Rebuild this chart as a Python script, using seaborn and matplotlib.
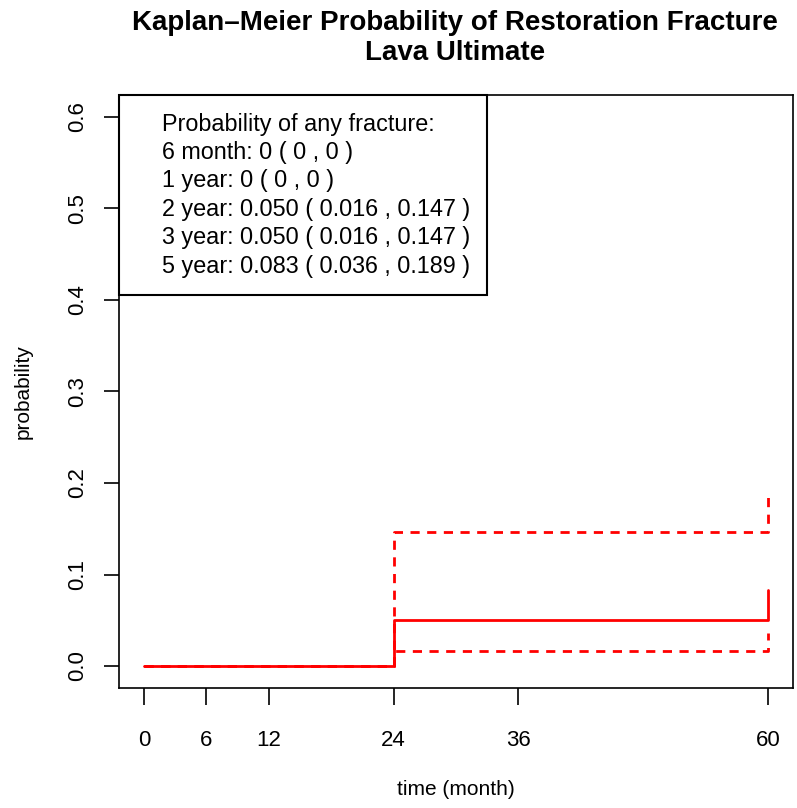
import matplotlib
matplotlib.use('Agg')

import matplotlib.pyplot as plt
import seaborn as sns
import pandas as pd
from matplotlib.patches import Rectangle

# Kaplan-Meier estimate of fracture probability and its confidence band
time_month = [0, 24, 60]
prob_fracture = [0.0, 0.050, 0.083]
ci_lower = [0.0, 0.016, 0.036]
ci_upper = [0.0, 0.147, 0.189]

x_ticks = [0, 6, 12, 24, 36, 60]
y_ticks = [0.0, 0.1, 0.2, 0.3, 0.4, 0.5, 0.6]

legend_lines = [
    "Probability of any fracture:",
    "6 month: 0 ( 0 , 0 )",
    "1 year: 0 ( 0 , 0 )",
    "2 year: 0.050 ( 0.016 , 0.147 )",
    "3 year: 0.050 ( 0.016 , 0.147 )",
    "5 year: 0.083 ( 0.036 , 0.189 )",
]

df = pd.DataFrame({"time": time_month, "est": prob_fracture,
                   "lo": ci_lower, "hi": ci_upper})

sns.set_style("white")
plt.rcParams['font.family'] = ['Liberation Sans', 'DejaVu Sans']
plt.rcParams['text.color'] = 'black'
plt.rcParams['axes.labelcolor'] = 'black'

fig = plt.figure(figsize=(7.97, 8.08), dpi=100)
ax = fig.add_axes([119 / 797, 1 - 688 / 808, 674 / 797, 593 / 808])

sns.lineplot(data=df, x="time", y="est", color="red", linewidth=2,
             drawstyle="steps-post", estimator=None, ax=ax)
for col in ["lo", "hi"]:
    sns.lineplot(data=df, x="time", y=col, color="red", linewidth=2,
                 drawstyle="steps-post", estimator=None,
                 linestyle=(0, (3.3, 2.7)), ax=ax)

# R-style 4% padding on both axes
ax.set_xlim(-2.4, 62.4)
ax.set_ylim(-0.024, 0.624)
ax.set_xticks(x_ticks)
ax.set_xticklabels([str(t) for t in x_ticks])
ax.set_yticks(y_ticks)
ax.set_yticklabels([f"{t:.1f}" for t in y_ticks], rotation=90, va="center")

for sp in ax.spines.values():
    sp.set_visible(True)
    sp.set_color("black")
    sp.set_linewidth(1.2)
ax.tick_params(axis="both", direction="out", length=11, width=1.2,
               colors="black", labelsize=16, bottom=True, left=True)
ax.tick_params(axis="x", pad=18, length=12)
ax.tick_params(axis="y", pad=11)

ax.set_xlabel("time (month)", fontsize=15)
ax.set_ylabel("probability", fontsize=15)
ax.xaxis.set_label_coords(0.5, -0.155)
ax.yaxis.set_label_coords(-0.128, 0.5)

# legend box in the top-left corner
ax.add_patch(Rectangle((0, 0.663), 0.546, 0.337, transform=ax.transAxes,
                       facecolor="white", edgecolor="black", linewidth=1.5,
                       zorder=5, clip_on=False))
for i, line in enumerate(legend_lines):
    ax.text(0.064, 0.951 - i * 28.4 / 593, line, transform=ax.transAxes,
            fontsize=16.8, va="center", ha="left", zorder=6)

fig.text(455 / 797, 1 - 37.5 / 808,
         "Kaplan\u2013Meier Probability of Restoration Fracture\nLava Ultimate",
         ha="center", va="center", fontsize=20, fontweight="bold",
         linespacing=1.2)

fig.savefig("out.png", dpi=100)
